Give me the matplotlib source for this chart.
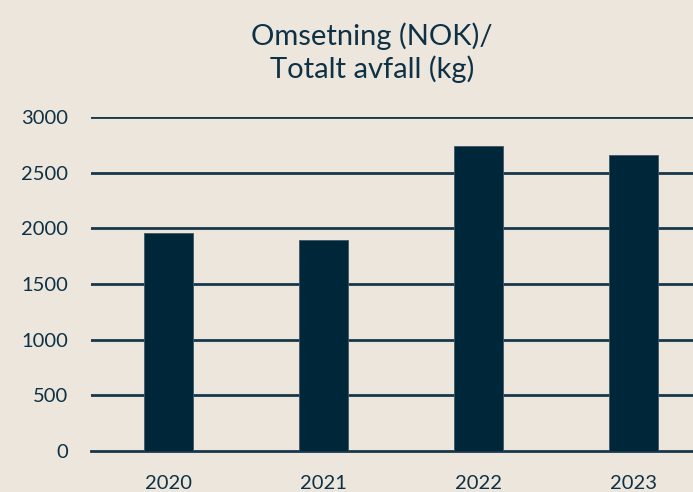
import matplotlib
matplotlib.use("Agg")
import matplotlib.pyplot as plt

years = ["2020", "2021", "2022", "2023"]
values = [1958, 1895, 2740, 2660]
yticks = [0, 500, 1000, 1500, 2000, 2500, 3000]

bg = "#EDE6DD"
bar_color = "#00263A"
text_color = "#0E3145"

plt.rcParams['font.family'] = ['Lato', 'DejaVu Sans']

W, H = 693, 492
fig = plt.figure(figsize=(W/100, H/100), dpi=100, facecolor=bg)
left = 91 / W
bottom = (H - 451) / H
top = (H - 117) / H
width = 620 / W
ax = fig.add_axes([left, bottom, width, top - bottom], facecolor=bg)

x = range(len(years))
ax.bar(x, values, width=0.316, color=bar_color, zorder=3,
       edgecolor="#3E5766", linewidth=0.6)
ax.set_xlim(-0.5, 3.5)
ax.set_ylim(0, 3000)
ax.set_yticks(yticks)
ax.set_yticklabels([str(t) for t in yticks])
ax.set_xticks(list(x))
ax.set_xticklabels(years)
ax.grid(axis='y', color="#17384A", linewidth=2, zorder=1)
ax.set_axisbelow(True)
for s in ax.spines.values():
    s.set_visible(False)
ax.tick_params(axis='both', length=0, labelsize=14.5, colors=text_color)
ax.tick_params(axis='y', pad=16.5)
ax.tick_params(axis='x', pad=17)
ax.yaxis.get_gridlines()[0].set_clip_on(False)

fig.text(372 / W, 1 - 53 / H, "Omsetning (NOK)/\nTotalt avfall (kg)",
         ha='center', va='center', fontsize=21, color=text_color,
         linespacing=1.25)

fig.savefig("out.png", dpi=100, facecolor=bg)
